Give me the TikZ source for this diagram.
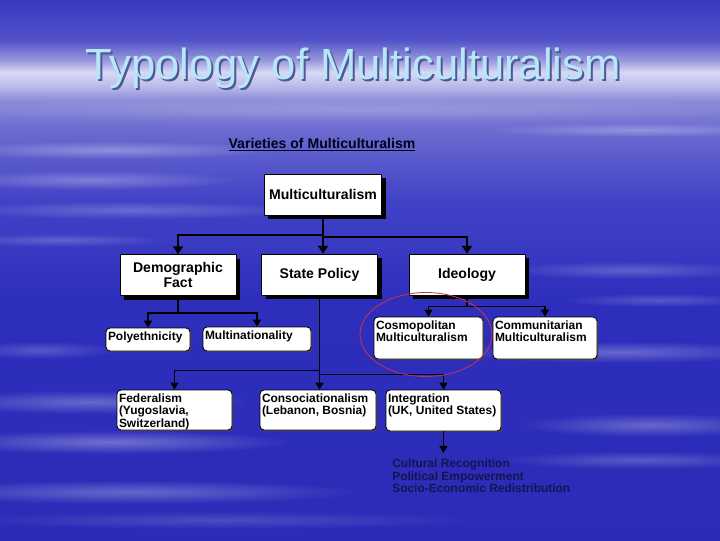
\documentclass[tikz,border=0pt]{standalone}
\usepackage{fontspec}
\setmainfont{Liberation Sans}
\usetikzlibrary{arrows.meta,shadows,fadings}
\newlength\pxu \setlength\pxu{0.025cm}
% text of a rounded box, set from its top left corner
\newcommand\lowtxt[3]{\parbox[c][#2\pxu][t]{#1\pxu}{\vspace*{1.5\pxu}\raggedright #3}}
\definecolor{titlecyan}{RGB}{182,230,248}
\definecolor{titleshade}{RGB}{78,88,150}
\definecolor{goalnavy}{RGB}{20,20,80}
\definecolor{ringred}{RGB}{200,50,80}
\pgfdeclareverticalshading{slidebg}{100bp}{
  rgb(0bp)=(0.17,0.17,0.72); rgb(25bp)=(0.17,0.17,0.72);
  rgb(47.2bp)=(0.18,0.18,0.74); rgb(56.5bp)=(0.26,0.26,0.78);
  rgb(63bp)=(0.42,0.42,0.82); rgb(65.7bp)=(0.55,0.55,0.85);
  rgb(67.1bp)=(0.74,0.74,0.92); rgb(68.3bp)=(0.85,0.85,0.96);
  rgb(69.4bp)=(0.60,0.60,0.87); rgb(71.3bp)=(0.32,0.32,0.79);
  rgb(75bp)=(0.22,0.22,0.75); rgb(100bp)=(0.22,0.22,0.75)}
\tikzfading[name=softedge, inner color=transparent!0, outer color=transparent!100]
\begin{document}
\begin{tikzpicture}[x=0.025cm,y=-0.025cm,
  topbox/.style={draw=black, line width=0.6pt, fill=white, minimum width=116\pxu,
    minimum height=41\pxu, align=center, font=\fontsize{10}{10.5}\selectfont\bfseries,
    drop shadow={shadow xshift=4\pxu, shadow yshift=-4\pxu, fill=black, opacity=1}},
  lowbox/.style={draw=black, line width=0.6pt, fill=white, rounded corners=4\pxu,
    inner sep=2\pxu, font=\fontsize{8.5}{9}\selectfont\bfseries,
    drop shadow={shadow xshift=1.2\pxu, shadow yshift=-1.2\pxu, fill=black!70, opacity=1}},
  thick link/.style={line width=1.4pt, -{Triangle[width=7pt,length=5.5pt]}},
  thin link/.style={line width=0.9pt, -{Triangle[width=5.7pt,length=5pt]}},
  streak/.style={fill=white, path fading=softedge}]
  \useasboundingbox (0,0) rectangle (720,540);
  \clip (0,0) rectangle (720,540);
  % background
  \shade[shading=slidebg] (0,0) rectangle (720,540);
  \foreach \cx/\cy/\rx/\ry/\op in {360/110/420/12/0.18, 110/150/170/9/0.3,
      90/180/150/10/0.28, 130/210/180/9/0.22, 60/240/110/7/0.2, 640/130/160/7/0.28,
      630/270/130/9/0.22, 660/300/100/7/0.2, 620/352/170/11/0.28, 40/350/80/9/0.2,
      90/402/160/12/0.28, 110/442/180/12/0.32, 650/425/130/12/0.28, 640/460/140/9/0.22,
      130/492/230/12/0.28, 220/520/260/9/0.15}
    \fill[streak, opacity=\op] (\cx,\cy) ellipse [x radius=\rx, y radius=\ry];
  % title
  \node[anchor=base west, inner sep=0, text=titleshade, font=\fontsize{31}{31}\selectfont]
    (titleshadow) at (87,81) {Typology of Multiculturalism};
  \node[anchor=base west, inner sep=0, text=titlecyan, font=\fontsize{31}{31}\selectfont]
    (title) at (85,79) {Typology of Multiculturalism};
  \node[text=black!92!blue, font=\fontsize{10}{12}\selectfont\bfseries]
    (heading) at (322,145) {\underline{Varieties of Multiculturalism}};
  % boxes
  \node[topbox] (multi) at (323,194.5) {Multiculturalism};
  \node[topbox] (demo) at (178,275) {Demographic\\Fact};
  \node[topbox] (state) at (319.5,274.5) {State Policy};
  \node[topbox] (ideo) at (467,274.5) {Ideology};
  \node[lowbox] (poly) at (148,339.5) {\lowtxt{80}{19}{Polyethnicity}};
  \node[lowbox] (mnat) at (257,339) {\lowtxt{104}{20}{Multinationality}};
  \node[lowbox] (cosmo) at (428.5,338) {\lowtxt{105}{38}{Cosmopolitan\\Multiculturalism}};
  \node[lowbox] (comm) at (545,338) {\lowtxt{100}{38}{Communitarian\\Multiculturalism}};
  \node[lowbox] (fed) at (174.5,410) {\lowtxt{111}{36}{Federalism\\(Yugoslavia,\\Switzerland)}};
  \node[lowbox] (conso) at (318,410) {\lowtxt{112}{36}{Consociationalism\\(Lebanon, Bosnia)}};
  \node[lowbox] (integ) at (443.5,410.5) {\lowtxt{111}{37}{Integration\\(UK, United States)}};
  \node[anchor=north west, inner xsep=0, inner ysep=6\pxu, align=left, text=goalnavy,
    font=\fontsize{8.5}{8.9}\selectfont\bfseries] (goals) at (392,453)
    {Cultural Recognition\\Political Empowerment\\Socio-Economic Redistribution};
  % connectors
  \draw[thick link] (multi.south) -- ++(0,20) -| (demo.north);
  \draw[thick link] (multi.south) -- ++(0,22) -| (ideo.north);
  \draw[thick link] (multi.south) -- (multi.south |- state.north);
  \draw[thin link] (demo.south) -- ++(0,17) -| (poly.north);
  \draw[thin link] (demo.south) -- ++(0,17) -| (mnat.north);
  \draw[thin link] (ideo.south) -- ++(0,11) -| (cosmo.north);
  \draw[thin link] (ideo.south) -- ++(0,11) -| (comm.north);
  \draw[thin link] (state.south) -- ++(0,75) -| (fed.north);
  \draw[thin link] (state.south) -- (state.south |- conso.north);
  \draw[thin link] (state.south) -- ++(0,79) -| (integ.north);
  \draw[thin link] (integ.south) -- (integ.south |- goals.north);
  % red ring
  \draw[ringred, line width=0.6pt] (426,334.5) ellipse [x radius=66, y radius=42];
\end{tikzpicture}
\end{document}
